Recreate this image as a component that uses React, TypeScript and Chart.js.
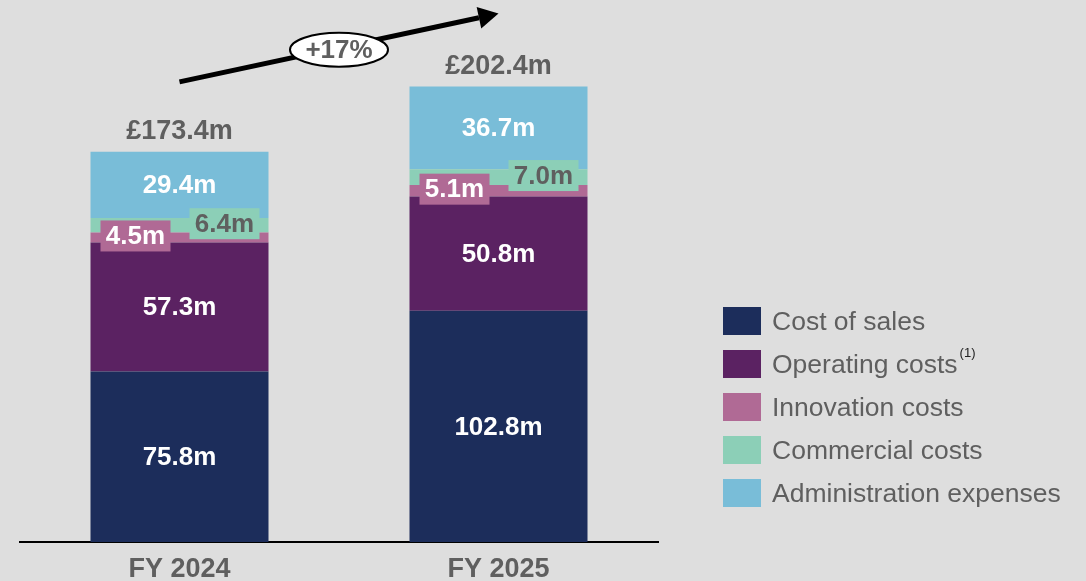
import React, { useEffect, useRef } from "react";
import { Chart, registerables } from "chart.js";

Chart.register(...registerables);

const categories = ["FY 2024", "FY 2025"];
const seriesNames = [
  "Cost of sales",
  "Operating costs",
  "Innovation costs",
  "Commercial costs",
  "Administration expenses",
];
const costOfSales = [75.8, 102.8];
const operatingCosts = [57.3, 50.8];
const innovationCosts = [4.5, 5.1];
const commercialCosts = [6.4, 7.0];
const adminExpenses = [29.4, 36.7];
const totals = [173.4, 202.4];
const seriesColors = ["#1c2d5b", "#5b2262", "#b06a95", "#8ccfb7", "#79bdd8"];

const FONT = "'Liberation Sans', Arial, sans-serif";
const GREY = "#5f5f5f";
const BG = "#dedede";

const labelsPlugin = {
  id: "segLabels",
  afterDatasetsDraw(chart: any) {
    const ctx = chart.ctx;
    ctx.save();
    ctx.textAlign = "center";
    ctx.textBaseline = "middle";
    chart.data.datasets.forEach((ds: any, di: number) => {
      const meta = chart.getDatasetMeta(di);
      meta.data.forEach((bar: any, i: number) => {
        const v = ds.data[i];
        const txt = v.toFixed(1) + "m";
        const top = Math.min(bar.y, bar.base);
        const bottom = Math.max(bar.y, bar.base);
        const cy = (top + bottom) / 2;
        const left = bar.x - bar.width / 2;
        const right = bar.x + bar.width / 2;
        ctx.font = `bold 26px ${FONT}`;
        if (di === 2 || di === 3) {
          const bw = 70;
          const bh = 31;
          const bx = di === 2 ? left + 10 : right - 9 - bw;
          const by = cy - 1.5 - bh / 2;
          ctx.fillStyle = seriesColors[di];
          ctx.fillRect(bx, by, bw, bh);
          ctx.fillStyle = di === 2 ? "#ffffff" : GREY;
          ctx.fillText(txt, bx + bw / 2, by + bh / 2 + 1);
        } else {
          ctx.fillStyle = "#ffffff";
          ctx.fillText(txt, bar.x, cy + 1);
        }
      });
    });
    // totals
    const lastMeta = chart.getDatasetMeta(chart.data.datasets.length - 1);
    const yScale = chart.scales.y;
    ctx.font = `bold 27px ${FONT}`;
    ctx.fillStyle = GREY;
    const tops: number[] = [];
    lastMeta.data.forEach((bar: any, i: number) => {
      const ty = yScale.getPixelForValue(totals[i]);
      tops.push(ty);
      ctx.fillText("£" + totals[i].toFixed(1) + "m", bar.x, ty - 20);
    });
    // growth arrow
    const b0 = lastMeta.data[0];
    const b1 = lastMeta.data[1];
    const x0 = b0.x;
    const y0 = tops[0] - 70;
    const x1 = b1.x;
    const y1 = tops[1] - 73;
    const ang = Math.atan2(y1 - y0, x1 - x0);
    const headLen = 20;
    const headW = 11;
    const lx = x1 - headLen * Math.cos(ang);
    const ly = y1 - headLen * Math.sin(ang);
    ctx.strokeStyle = "#000";
    ctx.lineWidth = 5;
    ctx.beginPath();
    ctx.moveTo(x0, y0);
    ctx.lineTo(lx, ly);
    ctx.stroke();
    ctx.fillStyle = "#000";
    ctx.beginPath();
    ctx.moveTo(x1, y1);
    ctx.lineTo(lx + headW * Math.sin(ang), ly - headW * Math.cos(ang));
    ctx.lineTo(lx - headW * Math.sin(ang), ly + headW * Math.cos(ang));
    ctx.closePath();
    ctx.fill();
    // ellipse
    const ex = (x0 + x1) / 2;
    const ey = y0 + (y1 - y0) * ((ex - x0) / (x1 - x0)) + 2;
    ctx.beginPath();
    ctx.ellipse(ex, ey, 49, 17, 0, 0, Math.PI * 2);
    ctx.fillStyle = "#ffffff";
    ctx.fill();
    ctx.lineWidth = 2;
    ctx.strokeStyle = "#000";
    ctx.stroke();
    const pct = Math.round((totals[1] / totals[0] - 1) * 100);
    ctx.fillStyle = GREY;
    ctx.font = `bold 26px ${FONT}`;
    ctx.fillText("+" + pct + "%", ex, ey + 1);
    ctx.restore();
  },
  afterDraw(chart: any) {
    const ctx = chart.ctx;
    ctx.save();
    const lx = 723;
    const ly = 307;
    const step = 43;
    chart.data.datasets.forEach((ds: any, i: number) => {
      const y = ly + i * step;
      ctx.fillStyle = ds.backgroundColor;
      ctx.fillRect(lx, y, 38, 28);
      ctx.font = `26.5px ${FONT}`;
      ctx.fillStyle = GREY;
      ctx.textAlign = "left";
      ctx.textBaseline = "middle";
      ctx.fillText(ds.label, lx + 49, y + 16);
      if (i === 1) {
        const w = ctx.measureText(ds.label).width;
        ctx.font = `13px ${FONT}`;
        ctx.fillStyle = "#222";
        ctx.fillText("(1)", lx + 49 + w + 2, y + 3);
      }
    });
    ctx.restore();
  },
};

export default function App() {
  const ref = useRef<HTMLCanvasElement>(null);
  useEffect(() => {
    document.body.style.margin = "0";
    const seriesData = [costOfSales, operatingCosts, innovationCosts, commercialCosts, adminExpenses];
    const chart = new Chart(ref.current as HTMLCanvasElement, {
      type: "bar",
      data: {
        labels: categories,
        datasets: seriesData.map((d, i) => ({
          label: seriesNames[i],
          data: d,
          backgroundColor: seriesColors[i],
          borderWidth: 0,
          categoryPercentage: 1,
          barPercentage: 0.558,
        })),
      },
      options: {
        animation: false,
        responsive: false,
        maintainAspectRatio: false,
        layout: { padding: { left: 20, right: 428, top: 2, bottom: 0 } },
        plugins: { legend: { display: false }, tooltip: { enabled: false } },
        scales: {
          x: {
            stacked: true,
            grid: { display: false, drawTicks: false },
            border: { display: true, color: "#000", width: 2 },
            ticks: {
              color: GREY,
              font: { family: FONT, size: 27, weight: "bold" },
              padding: 11,
            },
            afterFit: (scale: any) => {
              scale.height = 39;
            },
          },
          y: {
            stacked: true,
            display: false,
            min: 0,
            max: 240,
          },
        },
      },
      plugins: [labelsPlugin],
    });
    return () => chart.destroy();
  }, []);
  return (
    <div style={{ position: "fixed", left: 0, top: 0, width: 1086, height: 581, background: BG }}>
      <canvas ref={ref} width={1086} height={581} style={{ width: 1086, height: 581, display: "block" }} />
    </div>
  );
}
